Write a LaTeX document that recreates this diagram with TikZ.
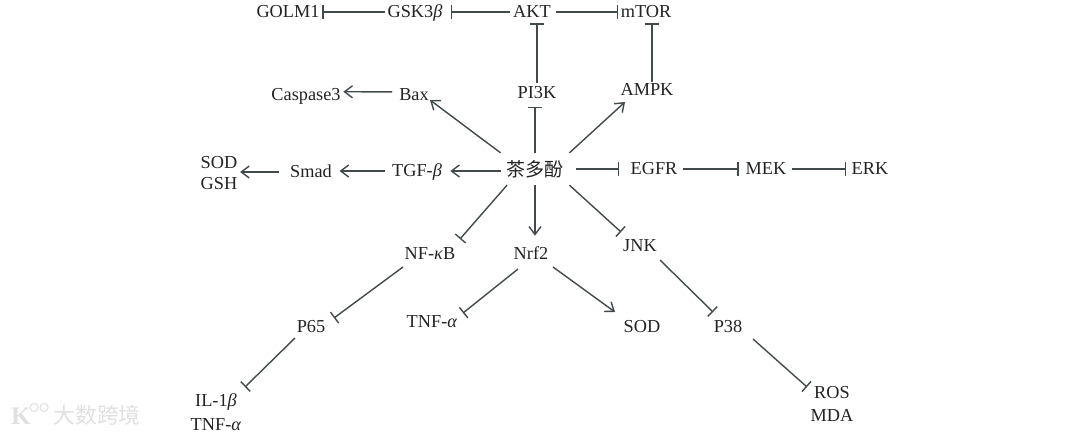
\documentclass[tikz,border=0pt]{standalone}
\usepackage{fontspec}
\setmainfont{Liberation Serif}
\newfontfamily\cjkfont{Noto Sans CJK SC}
\usetikzlibrary{arrows.meta}
\definecolor{linegray}{RGB}{66, 74, 76}
\definecolor{textgray}{RGB}{35, 35, 35}
\definecolor{markgray}{RGB}{224, 224, 224}
\tikzset{
  lbl/.style={font=\fontsize{13}{15}\selectfont, text=textgray, inner sep=2pt, outer sep=0pt,
    text height=7.6pt, text depth=0.4pt},
  stack/.style={font=\fontsize{13}{#1}\selectfont, text=textgray, inner sep=2pt, outer sep=0pt, align=center},
  signal/.style={-{Straight Barb[length=2mm, width=3mm, line width=1pt]}, line width=1pt, draw=linegray},
  inhibit/.style={-{Bar[width=3.4mm, line width=1pt]}, line width=1pt, draw=linegray}
}
\begin{document}
\begin{tikzpicture}[x=0.025cm, y=-0.025cm]
\useasboundingbox (0,0) rectangle (1080,435);

% top row
\node[lbl] (golm) at (288,12) {GOLM1};
\node[lbl] (gsk) at (415,12) {GSK3\textit{β}};
\node[lbl] (akt) at (532,12) {AKT};
\node[lbl] (mtor) at (646,12) {mTOR};

% second row
\node[lbl] (casp) at (306,95) {Caspase3};
\node[lbl] (bax) at (414,95) {Bax};
\node[lbl] (pik) at (537,93) {PI3K};
\node[lbl] (ampk) at (647,90) {AMPK};

% middle row
\node[stack=15pt] (sod) at (219,173) {SOD\\GSH};
\node[lbl] (smad) at (311,172) {Smad};
\node[lbl] (tgf) at (417,171) {TGF-\textit{β}};
\node[font=\cjkfont\fontsize{13.5}{15}\selectfont, text=textgray, inner sep=0pt, outer sep=0pt,
  minimum width=49pt, minimum height=23pt] (tea) at (535,169) {茶多酚};
\node[lbl] (egfr) at (654,169) {EGFR};
\node[lbl] (mek) at (766,169) {MEK};
\node[lbl] (erk) at (870,169) {ERK};

% lower rows
\node[lbl] (nfkb) at (430,254) {NF-\textit{κ}B};
\node[lbl] (nrf) at (531,254) {Nrf2};
\node[lbl] (jnk) at (640,246) {JNK};
\node[lbl] (tnfa) at (432,322) {TNF-\textit{α}};
\node[lbl] (sodb) at (642,327) {SOD};
\node[lbl] (pft) at (311,327) {P65};
\node[lbl] (pte) at (728,327) {P38};
\node[stack=17pt] (il) at (216,412) {IL-1\textit{β}\\TNF-\textit{α}};
\node[stack=17pt] (ros) at (832,404) {ROS\\MDA};

% watermark
\node[font=\cjkfont\fontsize{15.5}{16}\selectfont, text=markgray, inner sep=0pt] (mark) at (97,415) {大数跨境};
\node[font=\fontsize{18}{18}\selectfont\bfseries, text=markgray, inner sep=0pt] (markk) at (21,416) {K};
\draw[markgray, line width=0.8pt] (markk.north east) ++(3,0) circle (4) ++(10,0) circle (4);

% top row connectors
\draw[inhibit] (gsk.west) -- (golm.east);
\draw[inhibit, shorten >=4pt] (akt.west) -- (gsk.east);
\draw[inhibit, shorten <=2pt] (akt.east) -- (mtor.west);
\draw[inhibit, shorten <=1pt, shorten >=2pt] (pik.north) -- (pik.north |- akt.south);
\draw[inhibit, shorten >=2pt] (ampk.60) -- (ampk.60 |- mtor.south);

% from the centre, upwards
\draw[signal, shorten <=3pt] (bax.170) -- (casp.5);
\draw[signal] (tea.north west) -- ([shift={(16,5)}]bax.center);
\draw[inhibit, shorten >=4pt] (tea.north) -- (tea.north |- pik.south);
\draw[signal] (tea.north east) -- ([shift={(-22,12)}]ampk.center);

% from the centre, sideways
\draw[signal, shorten >=4pt] (tea.west |- tgf) -- (tgf.east);
\draw[signal, shorten <=3pt, shorten >=3.5pt] (tgf.west) -- (smad.east |- tgf);
\draw[signal, shorten <=6pt] (smad.west) -- (sod.east |- smad);
\draw[inhibit, shorten <=5pt, shorten >=6pt] (tea.east) -- (egfr.west);
\draw[inhibit, shorten <=2pt, shorten >=3pt] (egfr.east) -- (mek.west);
\draw[inhibit, shorten <=2pt, shorten >=2pt] (mek.east) -- (erk.west);

% from the centre, downwards
\draw[inhibit] (tea.-150) -- ([shift={(30,-15)}]nfkb.center);
\draw[signal, shorten >=7pt] (tea.south) -- (tea.south |- nrf.north);
\draw[inhibit] (tea.south east) -- ([shift={(-19,-14)}]jnk.center);
\draw[inhibit] ([shift={(-27,13)}]nfkb.center) -- ([shift={(23,-9)}]pft.center);
\draw[inhibit] ([shift={(-13,15)}]nrf.center) -- ([shift={(31,-9)}]tnfa.center);
\draw[signal] ([shift={(22,13)}]nrf.center) -- ([shift={(-27,-15)}]sodb.center);
\draw[inhibit] ([shift={(20,14)}]jnk.center) -- ([shift={(-15,-15)}]pte.center);
\draw[inhibit] ([shift={(-16,11)}]pft.center) -- ([shift={(29,-25)}]il.center);
\draw[inhibit] ([shift={(25,12)}]pte.center) -- ([shift={(-25,-17)}]ros.center);
\end{tikzpicture}
\end{document}
